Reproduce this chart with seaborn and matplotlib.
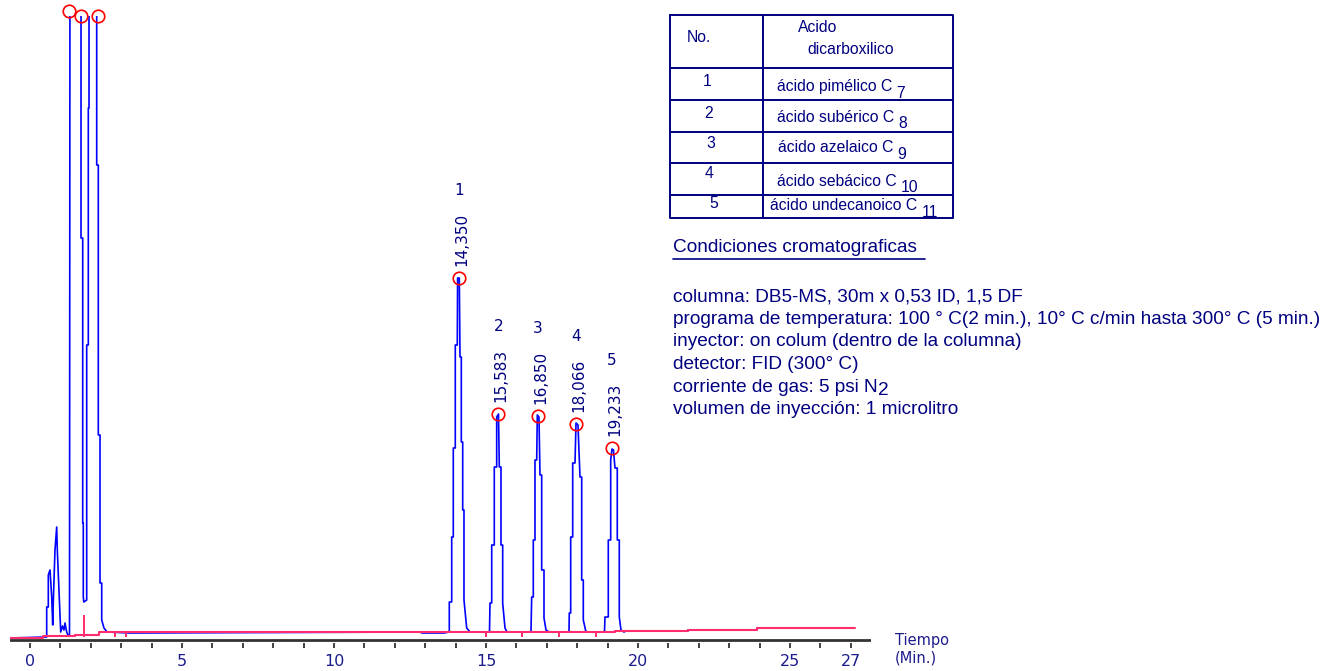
import matplotlib
matplotlib.use("Agg")
import matplotlib.pyplot as plt
import seaborn as sns
import pandas as pd
from matplotlib.lines import Line2D

# ---------------- data ----------------
# detector trace: time (min) and signal (arbitrary units, baseline = 0)
trace_time = [-0.658, 0.549, 0.549, 0.602, 0.602, 0.658, 0.714, 0.747, 0.766, 0.822,
              0.878, 0.898, 0.964, 1.010, 1.069, 1.118, 1.151, 1.207, 1.260, 1.299,
              1.316, 1.678, 1.678, 1.734, 1.734, 1.753, 1.753, 1.770,
              1.865, 1.865, 1.918, 1.918, 1.941, 1.941, 2.194, 2.194,
              2.247, 2.247, 2.303, 2.303, 2.359, 2.359, 2.434, 2.533, 3.289, 3.487,
              12.829, 12.895, 13.618, 13.793,
              13.793, 13.872, 13.872, 13.924, 13.924, 13.990, 13.990, 14.056, 14.066, 14.122,
              14.145, 14.188, 14.188, 14.234, 14.234, 14.276, 14.276, 14.365, 14.474,
              15.115, 15.132, 15.188, 15.188, 15.273, 15.273, 15.352, 15.352, 15.411, 15.438,
              15.493, 15.493, 15.549, 15.549, 15.625, 15.691,
              16.480, 16.503, 16.556, 16.556, 16.612, 16.612, 16.668, 16.688, 16.743, 16.776,
              16.832, 16.832, 16.908, 16.908, 16.974, 17.072,
              17.730, 17.740, 17.786, 17.786, 17.852, 17.852, 17.928, 17.961, 18.026, 18.092,
              18.148, 18.148, 18.201, 18.201, 18.289,
              18.898, 18.914, 19.023, 19.023, 19.102, 19.102, 19.145, 19.194, 19.243, 19.319,
              19.319, 19.385, 19.385, 19.441, 19.539, 19.600, 21.645, 21.645, 23.914,
              23.914, 23.960]
trace_signal = [-6, -5, 25, 25, 57, 62, 35, 7, 30, 82,
                105, 82, 35, 0, 6, 2, 9, 0, -4, -4,
                732, 732, 394, 394, 109, 109, 35, 30,
                32, 287, 287, 524, 524, 732, 732, 467,
                467, 197, 197, 49, 49, 12, 4, 0, -1, -1,
                0, -1, -1, 0,
                30, 30, 95, 95, 184, 184, 287, 287, 354, 354,
                275, 275, 190, 190, 122, 122, 32, 4, 0,
                0, 29, 29, 87, 87, 165, 165, 215, 218, 165,
                165, 87, 87, 29, 4, 0,
                0, 35, 35, 92, 92, 172, 172, 217, 215, 157,
                157, 62, 62, 14, 2, 0,
                0, 19, 19, 95, 95, 169, 169, 209, 207, 155,
                155, 52, 52, 12, 0,
                0, 15, 15, 92, 92, 172, 183, 182, 164, 164,
                92, 92, 15, 2, 0, 1, 1, 2, 2,
                4, 4]

# integration baseline (step levels)
baseline_time = [-0.658, 0.428, 1.480, 2.270, 19.243, 21.645, 23.914, 27.138]
baseline_level = [-6, -4, -2.5, 0, 1, 2, 4, 4]

# integration event markers
event_time = [1.776, 2.796, 3.158, 15.000, 16.184, 17.401, 18.618]
event_low = [-5, -5, -5, -5, -5, -5, -5]
event_high = [17, -1, -1, 0, 0, 0, 0]

# detected peak apexes (circles)
apex_time = [1.283, 1.668, 2.227, 14.11, 15.41, 16.70, 17.97, 19.15]
apex_signal = [621, 616, 616, 354, 218, 216, 208, 184]

# labelled peaks
peak_number = ["1", "2", "3", "4", "5"]
peak_rt_text = ["14,350", "15,583", "16,850", "18,066", "19,233"]

# x ticks
tick_values = list(range(0, 28))
tick_labelled = [0, 5, 10, 15, 20, 25, 27]

# table
table_numbers = ["1", "2", "3", "4", "5"]
acid_names = ["ácido pimélico C", "ácido subérico C", "ácido azelaico C",
              "ácido sebácico C", "ácido undecanoico C"]
acid_carbons = ["7", "8", "9", "10", "11"]

conditions_title = "Condiciones cromatograficas"
conditions = ["columna: DB5-MS, 30m x 0,53 ID, 1,5 DF",
              "programa de temperatura: 100 ° C(2 min.), 10° C c/min hasta 300° C (5 min.)",
              "inyector: on colum (dentro de la columna)",
              "detector: FID (300° C)",
              "corriente de gas: 5 psi N",
              "volumen de inyección: 1 microlitro"]
conditions_sub = {4: "2"}

# ---------------- figure ----------------
sns.set_style("white")
plt.rcParams["font.family"] = ["DejaVu Sans"]

W, H = 1336, 671
fig = plt.figure(figsize=(W / 100, H / 100), dpi=100)
fig.patch.set_facecolor("white")


def fx(x):
    return x / W


def fy(y):
    return 1 - y / H


NAVY = "#000080"
TICKNAVY = "#1c1c8c"
BLUE = "#0000ff"
PINK = "#ff2d6e"

ax_left, ax_right, ax_top, ax_bottom = 10, 871, 16, 648
ax = fig.add_axes([fx(ax_left), fy(ax_bottom), (ax_right - ax_left) / W,
                   (ax_bottom - ax_top) / H])
ax.set_facecolor("white")

df = pd.DataFrame({"t": trace_time, "s": trace_signal})
sns.lineplot(data=df, x="t", y="s", sort=False, estimator=None, color=BLUE,
             lw=1.2, ax=ax)

ax.plot(baseline_time, baseline_level, drawstyle="steps-post", color=PINK, lw=1.5)
ax.vlines(event_time, event_low, event_high, color=PINK, lw=1.4)

ax.plot(apex_time, apex_signal, ls="none", marker="o", ms=9, mfc="none",
        mec="#ff0000", mew=1.2, clip_on=False, zorder=5)

# axis line
ax.axhline(-7.5, color="#333333", lw=2)

for i, (num, rt) in enumerate(zip(peak_number, peak_rt_text)):
    t, s = apex_time[3 + i], apex_signal[3 + i]
    txt = ax.annotate(rt, xy=(t, s), xytext=(2, 9), textcoords="offset points",
                      rotation=90, ha="center", va="bottom", fontsize=11,
                      color=NAVY)
    ax.annotate(num, xy=(0.5, 1), xycoords=txt, xytext=(-2, 10),
                textcoords="offset points", ha="center", va="bottom",
                fontsize=11, color=NAVY)

ax.set_xlim(-0.658, 27.665)
ax.set_ylim(-16, 616)
ax.set_xticks(tick_values)
ax.set_xticklabels([str(v) if v in tick_labelled else "" for v in tick_values])
ax.tick_params(axis="x", direction="in", length=3.5, width=1.3, color="#333333",
               pad=4, labelsize=11.5, labelcolor=TICKNAVY, bottom=True)
ax.set_yticks([])
ax.set_xlabel("")
ax.set_ylabel("")
for sp in ax.spines.values():
    sp.set_visible(False)

fig.text(fx(895), fy(641), "Tiempo", fontsize=10.5, color=TICKNAVY, va="center",
         ha="left")
fig.text(fx(895), fy(658), "(Min.)", fontsize=10.5, color=TICKNAVY, va="center",
         ha="left")

# ---------------- table ----------------
tl, tr, tt, tb, tdiv = 670, 953, 15, 218, 763
row_lines = [68, 100, 132, 163, 195]
lk = dict(color=NAVY, lw=1.4, transform=fig.transFigure)
fig.add_artist(Line2D([fx(tl), fx(tr), fx(tr), fx(tl), fx(tl)],
                      [fy(tt), fy(tt), fy(tb), fy(tb), fy(tt)], **lk))
fig.add_artist(Line2D([fx(tdiv), fx(tdiv)], [fy(tt), fy(tb)], **lk))
for ry in row_lines:
    fig.add_artist(Line2D([fx(tl), fx(tr)], [fy(ry), fy(ry)], **lk))

TF = ["Liberation Sans", "DejaVu Sans"]
tfs = 11.3
fig.text(fx(687), fy(38), "No.", fontsize=tfs, family=TF, color=NAVY, va="center")
fig.text(fx(798), fy(28), "Acido", fontsize=tfs, family=TF, color=NAVY, va="center")
fig.text(fx(807), fy(49), "dicarboxilico", fontsize=tfs, family=TF, color=NAVY,
         va="center")
num_y = [81, 113, 143, 173, 204]
num_x = [707, 709, 711, 709, 714]
name_y = [87, 117, 148, 181, 206]
name_x = [777, 777, 778, 777, 770]
for i in range(5):
    fig.text(fx(num_x[i]), fy(num_y[i]), table_numbers[i], fontsize=tfs, family=TF,
             color=NAVY, va="center", ha="center")
    nt = fig.text(fx(name_x[i]), fy(name_y[i]), acid_names[i], fontsize=tfs,
                  family=TF, color=NAVY, va="center", ha="left")
    ax.annotate(acid_carbons[i], xy=(1, 0.5), xycoords=nt, xytext=(3, -4.5),
                textcoords="offset points", fontsize=tfs, family=TF, color=NAVY,
                va="center", ha="left", annotation_clip=False)

# ---------------- conditions ----------------
cfs = 13.7
ct = fig.text(fx(673), fy(248), conditions_title, fontsize=cfs, family=TF,
              color=NAVY, va="center", ha="left")
fig.add_artist(Line2D([fx(673), fx(925)], [fy(259), fy(259)], color=NAVY, lw=1.2,
                      transform=fig.transFigure))
for i, line in enumerate(conditions):
    y = 297 + 22.5 * i
    t = fig.text(fx(673), fy(y), line, fontsize=cfs, family=TF, color=NAVY,
                 va="center", ha="left")
    if i in conditions_sub:
        ax.annotate(conditions_sub[i], xy=(1, 0.5), xycoords=t, xytext=(0.5, -2.5),
                    textcoords="offset points", fontsize=cfs, family=TF, color=NAVY,
                    va="center", ha="left", annotation_clip=False)

fig.savefig("out.png", dpi=100, facecolor="white")
